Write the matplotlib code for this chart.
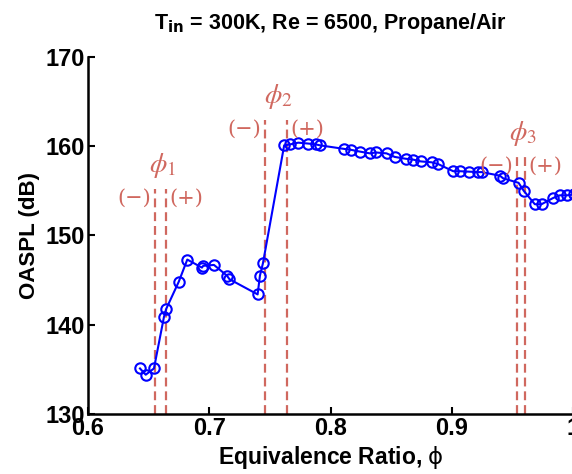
import numpy as np
import matplotlib
matplotlib.use('Agg')
import matplotlib.pyplot as plt

plt.rcParams['font.family'] = ['Liberation Sans', 'DejaVu Sans']
plt.rcParams['font.weight'] = 'normal'
plt.rcParams['mathtext.fontset'] = 'dejavusans'

# equivalence ratio / OASPL
phi = [0.6429, 0.6476, 0.6544, 0.6627, 0.6646, 0.6748, 0.6819, 0.6940, 0.6950,
       0.7039, 0.7146, 0.7167, 0.7399, 0.7418, 0.7443,
       0.7618, 0.7665, 0.7734, 0.7816, 0.7880, 0.7913,
       0.8113, 0.8168, 0.8242, 0.8325, 0.8374, 0.8462, 0.8530, 0.8619,
       0.8682, 0.8745, 0.8833, 0.8888, 0.9012, 0.9067, 0.9144, 0.9218,
       0.9246, 0.9397, 0.9424, 0.9551, 0.9594, 0.9685, 0.9740, 0.9836,
       0.9891, 0.9951, 1.0010]
oaspl = [135.1, 134.4, 135.1, 140.9, 141.8, 144.8, 147.3, 146.4, 146.6,
         146.7, 145.5, 145.1, 143.4, 145.5, 146.9,
         160.1, 160.2, 160.4, 160.3, 160.2, 160.1,
         159.7, 159.6, 159.4, 159.2, 159.3, 159.2, 158.8, 158.6,
         158.5, 158.3, 158.2, 158.0, 157.2, 157.2, 157.15, 157.1,
         157.1, 156.7, 156.4, 155.9, 155.0, 153.5, 153.5, 154.2,
         154.5, 154.5, 154.6]

# transition lines: (lean side, rich side, top of line)
trans_names = [r'$\phi_{\mathit{1}}$', r'$\phi_{\mathit{2}}$', r'$\phi_{\mathit{3}}$']
trans_lo = [0.655, 0.746, 0.954]
trans_hi = [0.664, 0.764, 0.960]
trans_top = [155.2, 162.9, 158.8]

red = '#d0685f'

fig = plt.figure(figsize=(5.72, 4.74), dpi=100)
ax = fig.add_axes([0.1538, 0.1266, 0.848, 0.7532])

for lo, hi, top, name in zip(trans_lo, trans_hi, trans_top, trans_names):
    ax.plot([lo, lo], [130, top], color=red, ls='--', lw=1.6, dashes=(4, 2.2))
    ax.plot([hi, hi], [130, top], color=red, ls='--', lw=1.6, dashes=(4, 2.2))
    mid = (lo + hi) / 2
    ax.text(mid + 0.002, top + 1.0, name, color=red, fontsize=20, ha='center', va='bottom',
            math_fontfamily='stix')
    ax.text(lo - 0.003, top - 1.0, '(\u2212)', color=red, fontsize=15, ha='right',
            va='center', family='DejaVu Serif')
    ax.text(hi + 0.003, top - 1.0, '(+)', color=red, fontsize=15, ha='left',
            va='center', family='DejaVu Serif')

ax.plot(phi, oaspl, color='#0000ff', lw=1.5, marker='o', mfc='none',
        mec='#0000ff', ms=7.5, mew=1.5, clip_on=True)

ax.set_xlim(0.6, 1.0)
ax.set_ylim(130, 170)
ax.set_xticks([0.6, 0.7, 0.8, 0.9, 1.0])
ax.set_xticklabels(['0.6', '0.7', '0.8', '0.9', '1'])
ax.set_yticks([130, 140, 150, 160, 170])
ax.tick_params(direction='in', length=5, width=1.5, labelsize=17, pad=2)
for lab in ax.get_xticklabels() + ax.get_yticklabels():
    lab.set_fontweight('bold')
ax.spines['top'].set_visible(False)
ax.spines['right'].set_visible(False)
ax.spines['left'].set_linewidth(1.8)
ax.spines['bottom'].set_linewidth(1.8)

ax.set_xlabel(r'Equivalence Ratio, $\mathrm{\phi}$', fontsize=16.5, fontweight='bold', labelpad=3)
ax.set_ylabel('OASPL (dB)', fontsize=16, fontweight='bold', labelpad=4)
ax.set_title(r'T$_{\mathbf{in}}$ = 300K, Re = 6500, Propane/Air', fontsize=15.5,
             fontweight='bold', pad=20)

fig.savefig('out.png', dpi=100)
